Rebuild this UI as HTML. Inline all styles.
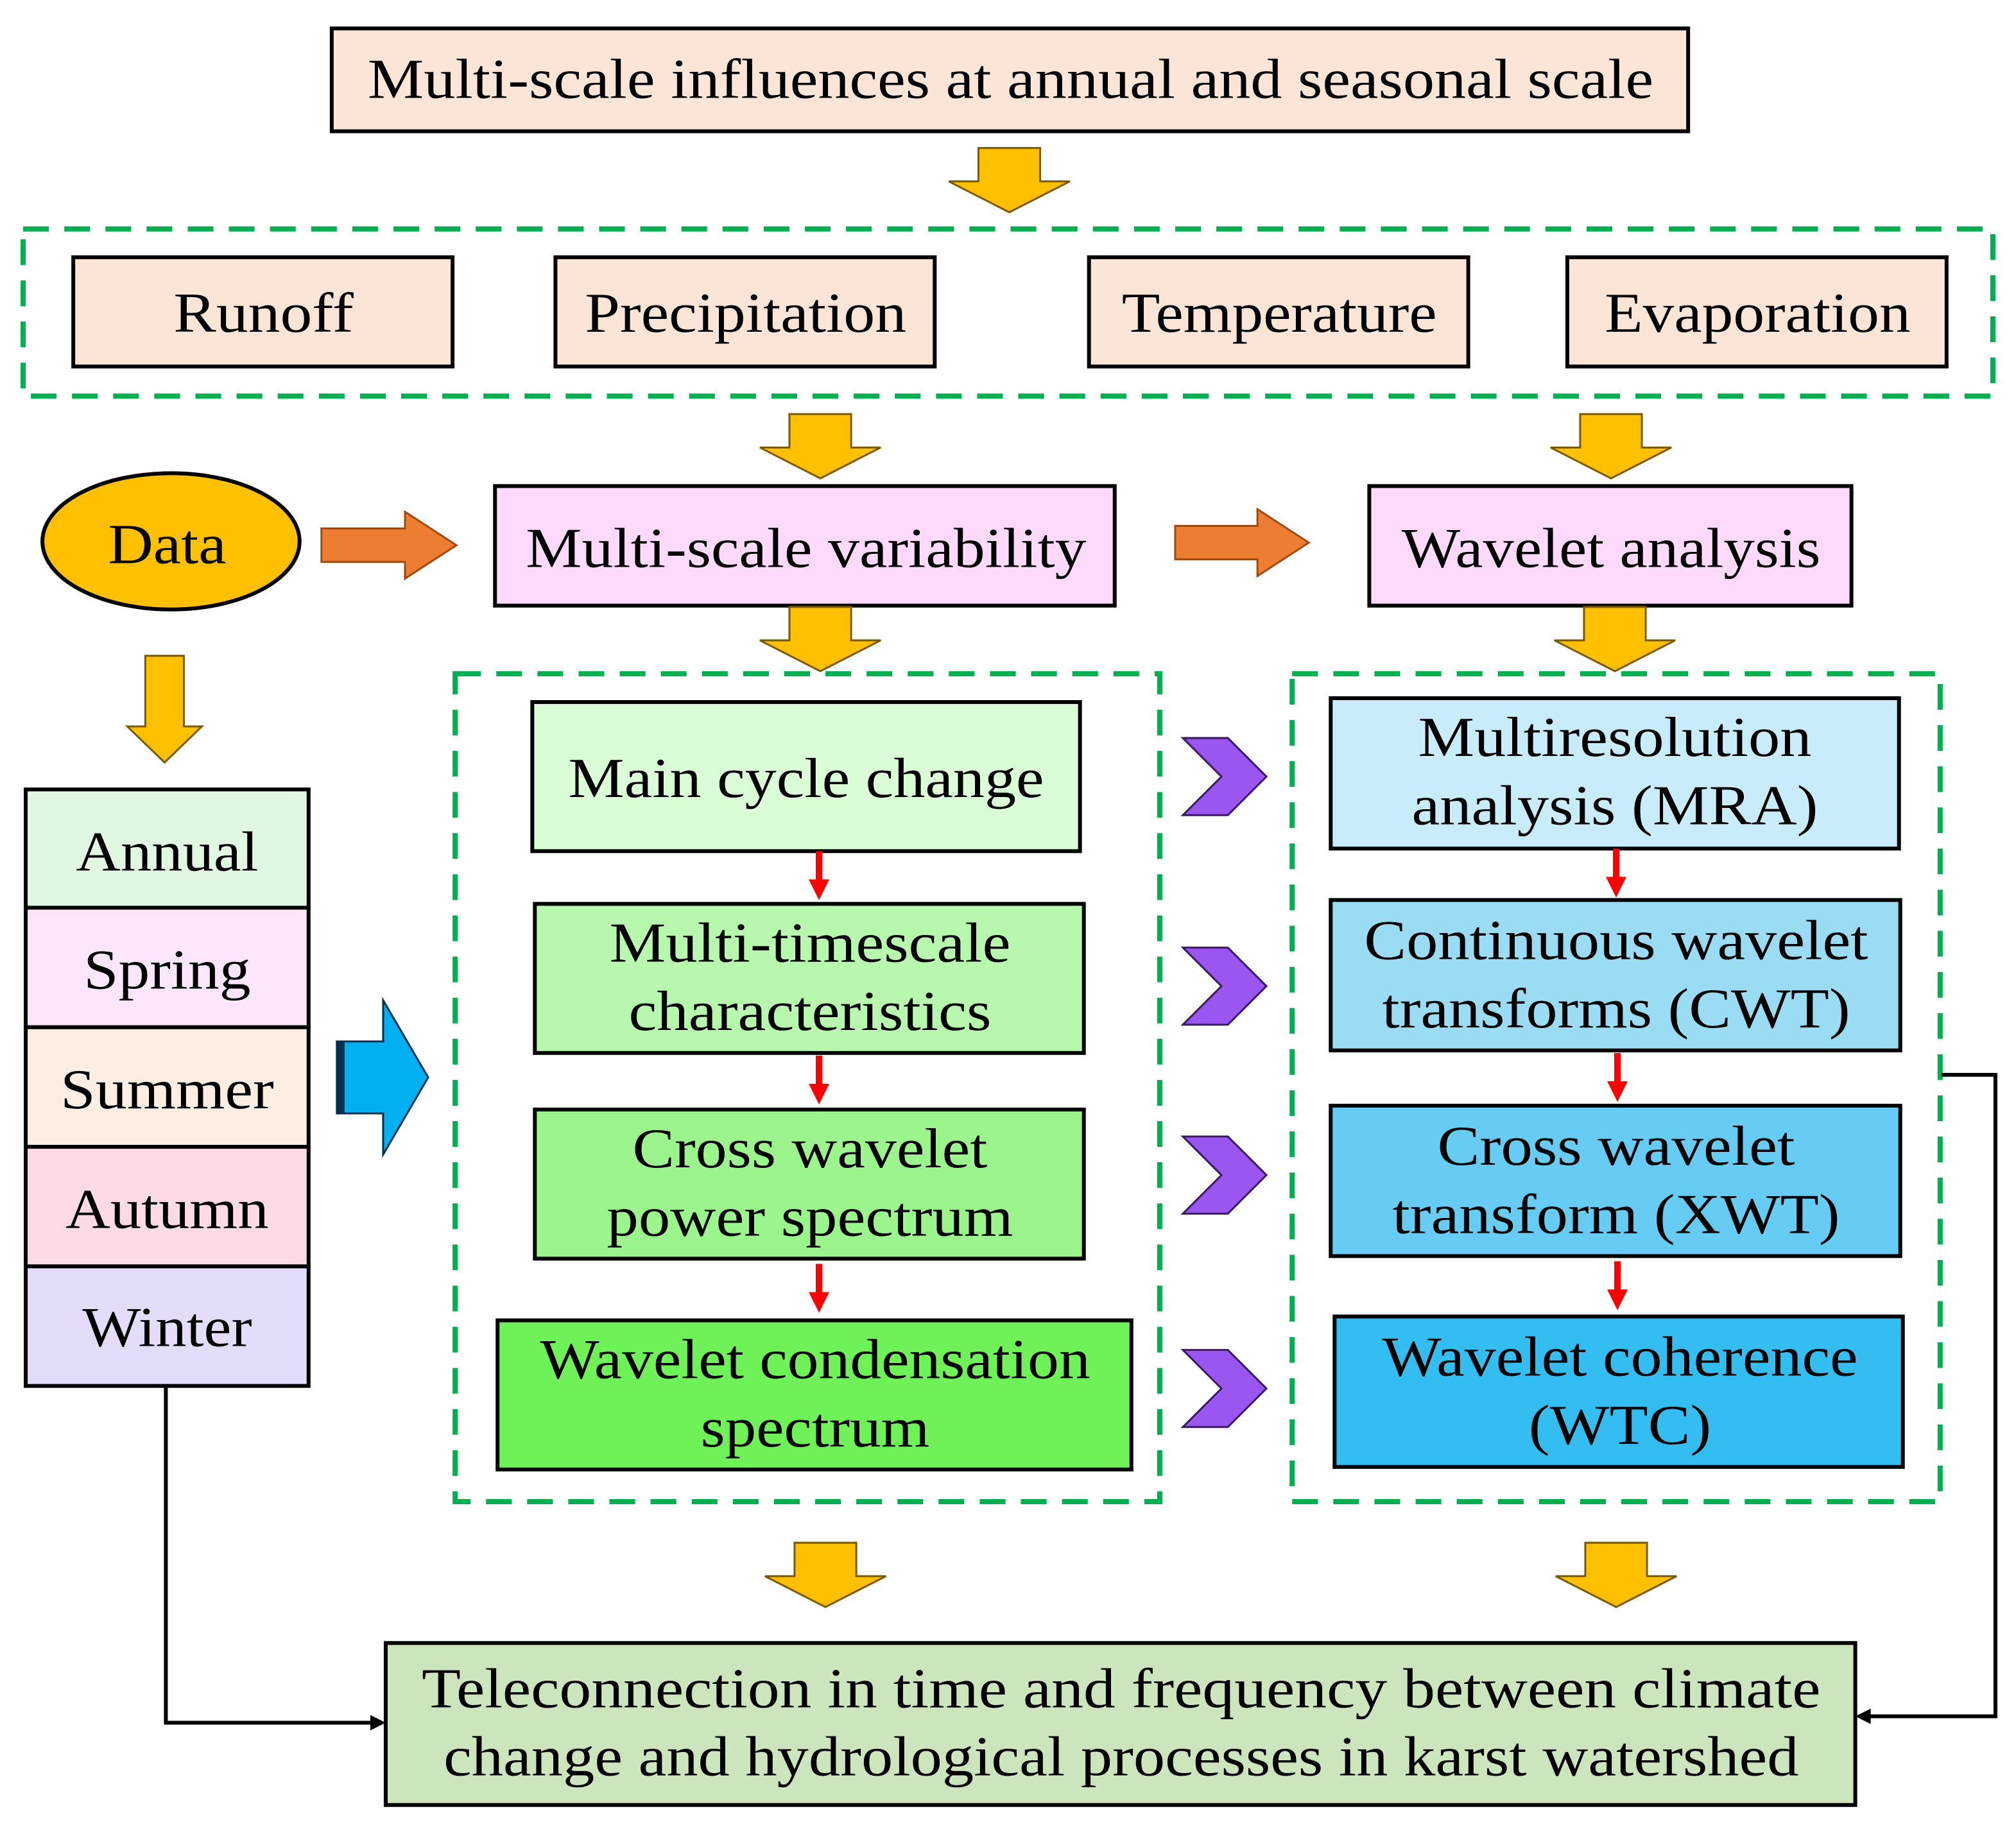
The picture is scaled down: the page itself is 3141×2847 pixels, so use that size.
<!DOCTYPE html>
<html><head><meta charset="utf-8"><style>html,body{margin:0;padding:0;background:#fff}svg{display:block}</style></head>
<body>
<svg width="3141" height="2847" viewBox="0 0 1568 1421" xmlns="http://www.w3.org/2000/svg" font-family="'Liberation Serif', serif" font-size="44">
<defs>
<g id="ga"><path d="M-24,0 H24 V26 H47 L0,50 L-47,26 H-24 Z" fill="#ffc000" stroke="#7a5a00" stroke-width="1.5"/></g>
<g id="ch"><path d="M0,0 H35 L65,30 L35,60 H0 L30,30 Z" fill="#9b55f0" stroke="#3a1a60" stroke-width="1.5"/></g>
<g id="ra"><path d="M-2.5,0 H2.5 V22 H8 L0,38 L-8,22 H-2.5 Z" fill="#ff0000"/></g>
</defs>
<g stroke="#000" stroke-width="3">
<rect x="258" y="22" width="1055" height="80" fill="#fbe5d6"/>
<rect x="57" y="200" width="295" height="85" fill="#fbe5d6"/>
<rect x="432" y="200" width="295" height="85" fill="#fbe5d6"/>
<rect x="847" y="200" width="295" height="85" fill="#fbe5d6"/>
<rect x="1219" y="200" width="295" height="85" fill="#fbe5d6"/>
<ellipse cx="133" cy="421" rx="100" ry="53" fill="#ffc000"/>
<rect x="385" y="378" width="482" height="93" fill="#fdd9fc"/>
<rect x="1065" y="378" width="375" height="93" fill="#fdd9fc"/>
<rect x="20" y="614" width="220" height="92" fill="#e2f7e2"/>
<rect x="20" y="706" width="220" height="93" fill="#fce6fc"/>
<rect x="20" y="799" width="220" height="93" fill="#fdeee4"/>
<rect x="20" y="892" width="220" height="93" fill="#fddbe4"/>
<rect x="20" y="985" width="220" height="93" fill="#e5dcfa"/>
<rect x="414" y="546" width="426" height="116" fill="#dafcd6"/>
<rect x="416" y="703" width="427" height="116" fill="#b7f7ae"/>
<rect x="416" y="863" width="427" height="116" fill="#9cf58c"/>
<rect x="387" y="1027" width="493" height="116" fill="#6ef257"/>
<rect x="1035" y="543" width="442" height="117" fill="#c8ecfa"/>
<rect x="1035" y="700" width="443" height="117" fill="#9bdcf5"/>
<rect x="1035" y="860" width="443" height="117" fill="#66ccf3"/>
<rect x="1038" y="1024" width="442" height="117" fill="#33bdf0"/>
<rect x="300" y="1278" width="1143" height="126" fill="#cde5bd"/>
</g>
<g fill="none" stroke="#00b050" stroke-width="4" stroke-dasharray="20,12">
<rect x="18" y="178" width="1532" height="130"/>
<rect x="354" y="524" width="548" height="644"/>
<rect x="1005" y="524" width="504" height="644"/>
</g>
<use href="#ga" x="785" y="115"/>
<use href="#ga" x="638" y="322"/>
<use href="#ga" x="1253" y="322"/>
<use href="#ga" x="638" y="472"/>
<use href="#ga" x="1256" y="472"/>
<path d="M113,510 H143 V565 H157 L128,593 L99,565 H113 Z" fill="#ffc000" stroke="#7a5a00" stroke-width="1.5"/>
<use href="#ga" x="642" y="1200"/>
<use href="#ga" x="1257" y="1200"/>
<path d="M250,411 H315 V398 L355,424 L315,450 V437 H250 Z" fill="#ed7d31" stroke="#a04a10" stroke-width="1.5"/>
<path d="M914,409 H978 V396 L1018,422 L978,448 V435 H914 Z" fill="#ed7d31" stroke="#a04a10" stroke-width="1.5"/>
<path d="M262,810 H298 V778 L333,838 L298,898 V866 H262 Z" fill="#00b0f0" stroke="#003050" stroke-width="1.5"/>
<rect x="262" y="810" width="6" height="56" fill="#003050"/>
<use href="#ch" x="920" y="574"/>
<use href="#ch" x="920" y="737"/>
<use href="#ch" x="920" y="884"/>
<use href="#ch" x="920" y="1050"/>
<use href="#ra" x="637" y="662"/>
<use href="#ra" x="637" y="821"/>
<use href="#ra" x="637" y="983"/>
<use href="#ra" x="1257" y="660"/>
<use href="#ra" x="1258" y="819"/>
<use href="#ra" x="1258" y="981"/>
<g fill="none" stroke="#000" stroke-width="3">
<path d="M129,1078 V1340 H290"/>
<path d="M1510,836 H1552 V1335 H1453"/>
</g>
<path d="M300,1340 L288,1334 V1346 Z" fill="#000"/>
<path d="M1443,1335 L1455,1329 V1341 Z" fill="#000"/>
<g text-anchor="middle" fill="#000" lengthAdjust="spacingAndGlyphs">
<text x="786" y="76" textLength="1000" lengthAdjust="spacingAndGlyphs">Multi-scale influences at annual and seasonal scale</text>
<text x="205" y="258" textLength="140" lengthAdjust="spacingAndGlyphs">Runoff</text>
<text x="580" y="258" textLength="250" lengthAdjust="spacingAndGlyphs">Precipitation</text>
<text x="995" y="258" textLength="245" lengthAdjust="spacingAndGlyphs">Temperature</text>
<text x="1367" y="258" textLength="238" lengthAdjust="spacingAndGlyphs">Evaporation</text>
<text x="130" y="438" textLength="92" lengthAdjust="spacingAndGlyphs">Data</text>
<text x="627" y="441" textLength="436" lengthAdjust="spacingAndGlyphs">Multi-scale variability</text>
<text x="1253" y="441" textLength="326" lengthAdjust="spacingAndGlyphs">Wavelet analysis</text>
<text x="130" y="677" textLength="142" lengthAdjust="spacingAndGlyphs">Annual</text>
<text x="130" y="769" textLength="130" lengthAdjust="spacingAndGlyphs">Spring</text>
<text x="130" y="862" textLength="166" lengthAdjust="spacingAndGlyphs">Summer</text>
<text x="130" y="955" textLength="158" lengthAdjust="spacingAndGlyphs">Autumn</text>
<text x="130" y="1047" textLength="132" lengthAdjust="spacingAndGlyphs">Winter</text>
<text x="627" y="620" textLength="370" lengthAdjust="spacingAndGlyphs">Main cycle change</text>
<text x="630" y="748" textLength="312" lengthAdjust="spacingAndGlyphs">Multi-timescale</text>
<text x="630" y="801" textLength="282" lengthAdjust="spacingAndGlyphs">characteristics</text>
<text x="630" y="908" textLength="276" lengthAdjust="spacingAndGlyphs">Cross wavelet</text>
<text x="630" y="961" textLength="316" lengthAdjust="spacingAndGlyphs">power spectrum</text>
<text x="634" y="1072" textLength="428" lengthAdjust="spacingAndGlyphs">Wavelet condensation</text>
<text x="634" y="1125" textLength="178" lengthAdjust="spacingAndGlyphs">spectrum</text>
<text x="1256" y="588" textLength="306" lengthAdjust="spacingAndGlyphs">Multiresolution</text>
<text x="1256" y="641" textLength="316" lengthAdjust="spacingAndGlyphs">analysis (MRA)</text>
<text x="1257" y="746" textLength="392" lengthAdjust="spacingAndGlyphs">Continuous wavelet</text>
<text x="1257" y="799" textLength="364" lengthAdjust="spacingAndGlyphs">transforms (CWT)</text>
<text x="1257" y="906" textLength="278" lengthAdjust="spacingAndGlyphs">Cross wavelet</text>
<text x="1257" y="959" textLength="348" lengthAdjust="spacingAndGlyphs">transform (XWT)</text>
<text x="1260" y="1070" textLength="370" lengthAdjust="spacingAndGlyphs">Wavelet coherence</text>
<text x="1260" y="1123" textLength="142" lengthAdjust="spacingAndGlyphs">(WTC)</text>
<text x="872" y="1328" textLength="1088" lengthAdjust="spacingAndGlyphs">Teleconnection in time and  frequency between climate</text>
<text x="872" y="1381" textLength="1054" lengthAdjust="spacingAndGlyphs">change and hydrological processes in karst watershed</text>
</g>
</svg>
</body></html>
